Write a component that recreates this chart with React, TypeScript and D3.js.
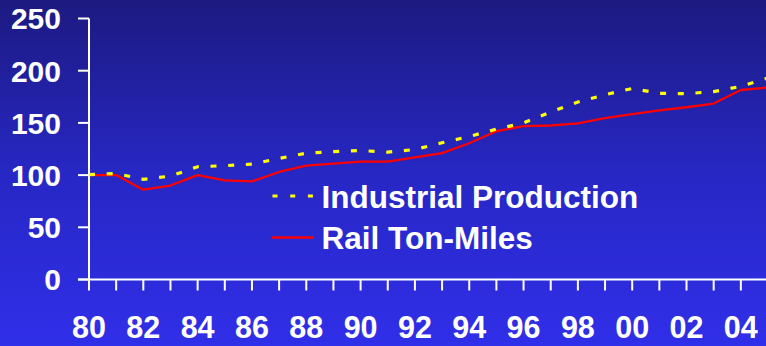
import React from "react";
import * as d3 from "d3";

const years = d3.range(1980, 2006);
const industrialProduction = [
  100.5, 101.5, 96, 99, 108, 109, 110.5, 116, 121, 122.5, 123.5, 122, 124.5,
  131, 137, 144, 150, 160.5, 170, 177, 183, 178.3, 178, 180, 185, 193,
];
const railTonMiles = [
  100, 100, 86, 90, 100, 95, 94, 103, 109, 111, 113, 113, 117, 121, 130.5, 142,
  147, 147.5, 149.5, 154.5, 158.5, 162, 165, 168.5, 181.5, 184,
];
const yTicks = [0, 50, 100, 150, 200, 250];
const xTickYears = d3.range(1980, 2005);
const xLabelYears = d3.range(1980, 2005, 2);
const legendLabels = ["Industrial Production", "Rail Ton-Miles"];

const W = 766;
const H = 346;
const FONT = "'Liberation Sans', Arial, sans-serif";

export default function App() {
  const x = d3.scaleLinear().domain([1980, 2005]).range([89, 768]);
  const y = d3.scaleLinear().domain([0, 250]).range([279.5, 18.5]);

  const line = d3
    .line<number>()
    .x((_, i) => x(years[i]))
    .y((d) => y(d));

  const x0 = x(1980);
  const y0 = y(0);

  return (
    <svg
      width={W}
      height={H}
      style={{ position: "fixed", left: 0, top: 0, display: "block" }}
    >
      <defs>
        <linearGradient id="bg" x1="0" y1="0" x2="0" y2="1">
          <stop offset="0%" stopColor="#1c1a80" />
          <stop offset="50%" stopColor="#2727c4" />
          <stop offset="100%" stopColor="#302fe9" />
        </linearGradient>
      </defs>
      <rect x={0} y={0} width={W} height={H} fill="url(#bg)" />

      {/* y axis */}
      <line x1={x0} x2={x0} y1={y(250)} y2={y0} stroke="#fff" strokeWidth={2} />
      {yTicks.map((t) => (
        <g key={t}>
          <line x1={x0 - 11} x2={x0} y1={y(t)} y2={y(t)} stroke="#fff" strokeWidth={2} />
          <text
            x={61}
            y={y(t)}
            dy="0.36em"
            textAnchor="end"
            fill="#fff"
            fontFamily={FONT}
            fontWeight="bold"
            fontSize={30}
          >
            {t}
          </text>
        </g>
      ))}

      {/* x axis */}
      <line x1={x0 - 11} x2={W} y1={y0} y2={y0} stroke="#fff" strokeWidth={2} />
      {xTickYears.map((yr) => (
        <line key={yr} x1={x(yr)} x2={x(yr)} y1={y0} y2={y0 + 11} stroke="#fff" strokeWidth={2} />
      ))}
      {xLabelYears.map((yr) => (
        <text
          key={yr}
          x={x(yr)}
          y={337.5}
          textAnchor="middle"
          fill="#fff"
          fontFamily={FONT}
          fontWeight="bold"
          fontSize={30.5}
        >
          {String(yr % 100).padStart(2, "0")}
        </text>
      ))}

      {/* series */}
      <path
        d={line(railTonMiles) ?? ""}
        fill="none"
        stroke="#ff0000"
        strokeWidth={2.3}
        strokeLinejoin="round"
      />
      <path
        d={line(industrialProduction) ?? ""}
        fill="none"
        stroke="#ffff00"
        strokeWidth={3.2}
        strokeDasharray="6 11.7"
      />

      {/* legend */}
      <line
        x1={272.5}
        x2={314}
        y1={196}
        y2={196}
        stroke="#ffff00"
        strokeWidth={3}
        strokeDasharray="5 12.7"
      />
      <line x1={272} x2={314} y1={237.5} y2={237.5} stroke="#ff0000" strokeWidth={2.3} />
      {legendLabels.map((label, i) => (
        <text
          key={label}
          x={321.5}
          y={207.5 + i * 41}
          fill="#fff"
          fontFamily={FONT}
          fontWeight="bold"
          fontSize={31.5}
        >
          {label}
        </text>
      ))}
    </svg>
  );
}
